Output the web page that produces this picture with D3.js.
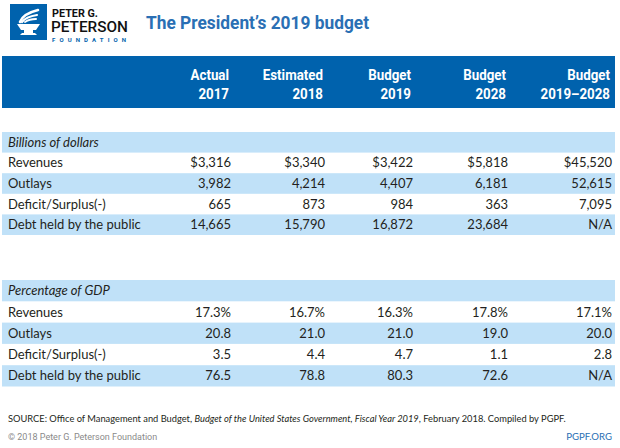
<!DOCTYPE html>
<html><head><meta charset="utf-8">
<script src="https://cdn.jsdelivr.net/npm/d3@7"></script>
<style>
html,body{margin:0;padding:0;background:#fff;}
svg{display:block;}
</style></head>
<body>
<svg id="chart" width="620" height="448"></svg>
<script>
// ---------- data ----------
const title = "The President\u2019s 2019 budget";
const colTop = ["Actual", "Estimated", "Budget", "Budget", "Budget"];
const colBottom = ["2017", "2018", "2019", "2028", "2019\u20132028"];
const rowLabels = ["Revenues", "Outlays", "Deficit/Surplus(-)", "Debt held by the public"];
const section1Title = "Billions of dollars";
const section2Title = "Percentage of GDP";
const dollars = [
  ["$3,316", "$3,340", "$3,422", "$5,818", "$45,520"],
  ["3,982", "4,214", "4,407", "6,181", "52,615"],
  ["665", "873", "984", "363", "7,095"],
  ["14,665", "15,790", "16,872", "23,684", "N/A"]
];
const percents = [
  ["17.3%", "16.7%", "16.3%", "17.8%", "17.1%"],
  ["20.8", "21.0", "21.0", "19.0", "20.0"],
  ["3.5", "4.4", "4.7", "1.1", "2.8"],
  ["76.5", "78.8", "80.3", "72.6", "N/A"]
];
const sourceText = ["SOURCE: Office of Management and Budget, ", "Budget of the United States Government, Fiscal Year 2019", ", February 2018. Compiled by PGPF."];
const copyright = "\u00a9 2018 Peter G. Peterson Foundation";
const site = "PGPF.ORG";

// ---------- drawing ----------
const svg = d3.select("#chart");
const BLUE = "#0062ad", LIGHT = "#c0e1f8", TXT = "#231f20";
const bodyFont = "Lato, 'Open Sans', sans-serif";

// column scale (right edges)
const colIdx = d3.range(colTop.length);
const xCol = d3.scaleOrdinal().domain(colIdx).range([231, 325, 413, 508, 612]);

// logo
const logo = svg.append("g");
logo.append("rect").attr("x", 10).attr("y", 4).attr("width", 37).attr("height", 36).attr("fill", BLUE);
logo.append("path").attr("d", "M17,24 L40,24 L36,30 L21,30 Z").attr("fill", "#fff");
logo.append("rect").attr("x", 24).attr("y", 30).attr("width", 9).attr("height", 3).attr("fill", "#fff");
logo.append("path").attr("d", "M20,35 L37,35 L35,33 L22,33 Z").attr("fill", "#fff");
[["M20,22 C22,16 30,12 38,10", 2.6], ["M22,22 C25,18 31,16 37,15", 2.2], ["M25,22 C28,20 32,19 36,19", 2]].forEach(d => {
  logo.append("path").attr("d", d[0]).attr("fill", "none").attr("stroke", "#fff").attr("stroke-width", d[1]).attr("stroke-linecap", "round");
});
logo.append("text").attr("x", 52).attr("y", 17).attr("font-family", "Roboto, sans-serif").attr("font-weight", 700)
  .attr("font-size", 11.5).attr("fill", "#111").attr("textLength", 46).attr("lengthAdjust", "spacingAndGlyphs").text("PETER G.");
logo.append("text").attr("x", 51).attr("y", 32).attr("font-family", "Roboto, sans-serif").attr("font-weight", 500)
  .attr("font-size", 14.5).attr("fill", "#111").attr("textLength", 77).attr("lengthAdjust", "spacingAndGlyphs").text("PETERSON");
logo.append("text").attr("x", 52).attr("y", 41.5).attr("font-family", "Roboto, sans-serif").attr("font-weight", 700)
  .attr("font-size", 6).attr("fill", BLUE).attr("textLength", 74).attr("lengthAdjust", "spacing").text("FOUNDATION");

// title
svg.append("text").attr("x", 146).attr("y", 29).attr("font-family", "Roboto, sans-serif").attr("font-weight", 700)
  .attr("font-size", 17.5).attr("fill", "#2a6fb4").attr("textLength", 223).attr("lengthAdjust", "spacingAndGlyphs").text(title);

// header band (condensed bold text via horizontal scale)
svg.append("rect").attr("x", 2).attr("y", 56).attr("width", 613).attr("height", 52).attr("fill", BLUE);
const hdr = svg.append("g").attr("font-family", "Roboto, sans-serif").attr("font-weight", 700).attr("font-size", 15.5)
  .attr("fill", "#fff").attr("text-anchor", "end");
hdr.selectAll("text.t").data(colIdx).join("text").attr("class", "t")
  .attr("transform", i => `translate(${xCol(i) - 2},80) scale(0.86,1)`).text(i => colTop[i]);
hdr.selectAll("text.b").data(colIdx).join("text").attr("class", "b")
  .attr("transform", i => `translate(${xCol(i) - 2},99) scale(0.86,1)`).text(i => colBottom[i]);

// sections
function section(top, rowH, heading, values) {
  const rows = [heading].concat(rowLabels);
  const y = d3.scaleBand().domain(d3.range(rows.length)).range([top, top + rowH * rows.length]);
  const g = svg.append("g");
  g.selectAll("rect").data(d3.range(rows.length).filter(i => i % 2 === 0)).join("rect")
    .attr("x", 2).attr("width", 613).attr("y", i => y(i)).attr("height", y.bandwidth()).attr("fill", LIGHT);
  g.append("text").attr("x", 8).attr("y", y(0) + y.bandwidth() / 2).attr("dy", "0.35em")
    .attr("font-family", bodyFont).attr("font-style", "italic").attr("font-size", 13).attr("fill", TXT).text(heading);
  g.selectAll("text.lab").data(rowLabels).join("text").attr("class", "lab")
    .attr("x", 8).attr("y", (d, i) => y(i + 1) + y.bandwidth() / 2).attr("dy", "0.35em")
    .attr("font-family", bodyFont).attr("font-size", 13).attr("fill", TXT).text(d => d);
  values.forEach((row, r) => {
    g.selectAll(null).data(row).join("text")
      .attr("x", (d, c) => xCol(c)).attr("y", y(r + 1) + y.bandwidth() / 2).attr("dy", "0.35em")
      .attr("text-anchor", "end").attr("font-family", bodyFont).attr("font-size", 13).attr("fill", TXT).text(d => d);
  });
}
section(132, 20.6, section1Title, dollars);
section(280, 21.3, section2Title, percents);

// footer
const src = svg.append("text").attr("x", 8).attr("y", 422).attr("font-family", bodyFont).attr("font-size", 9.3).attr("fill", TXT);
sourceText.forEach((s, i) => src.append("tspan").attr("font-style", i === 1 ? "italic" : "normal").text(s));
svg.append("text").attr("x", 8).attr("y", 440).attr("font-family", "Roboto, sans-serif").attr("font-size", 9).attr("fill", "#8a8a8a").text(copyright);
svg.append("text").attr("x", 612).attr("y", 440).attr("text-anchor", "end").attr("font-family", bodyFont).attr("font-size", 9.6).attr("fill", "#2a6fb4").text(site);
</script>
</body></html>
